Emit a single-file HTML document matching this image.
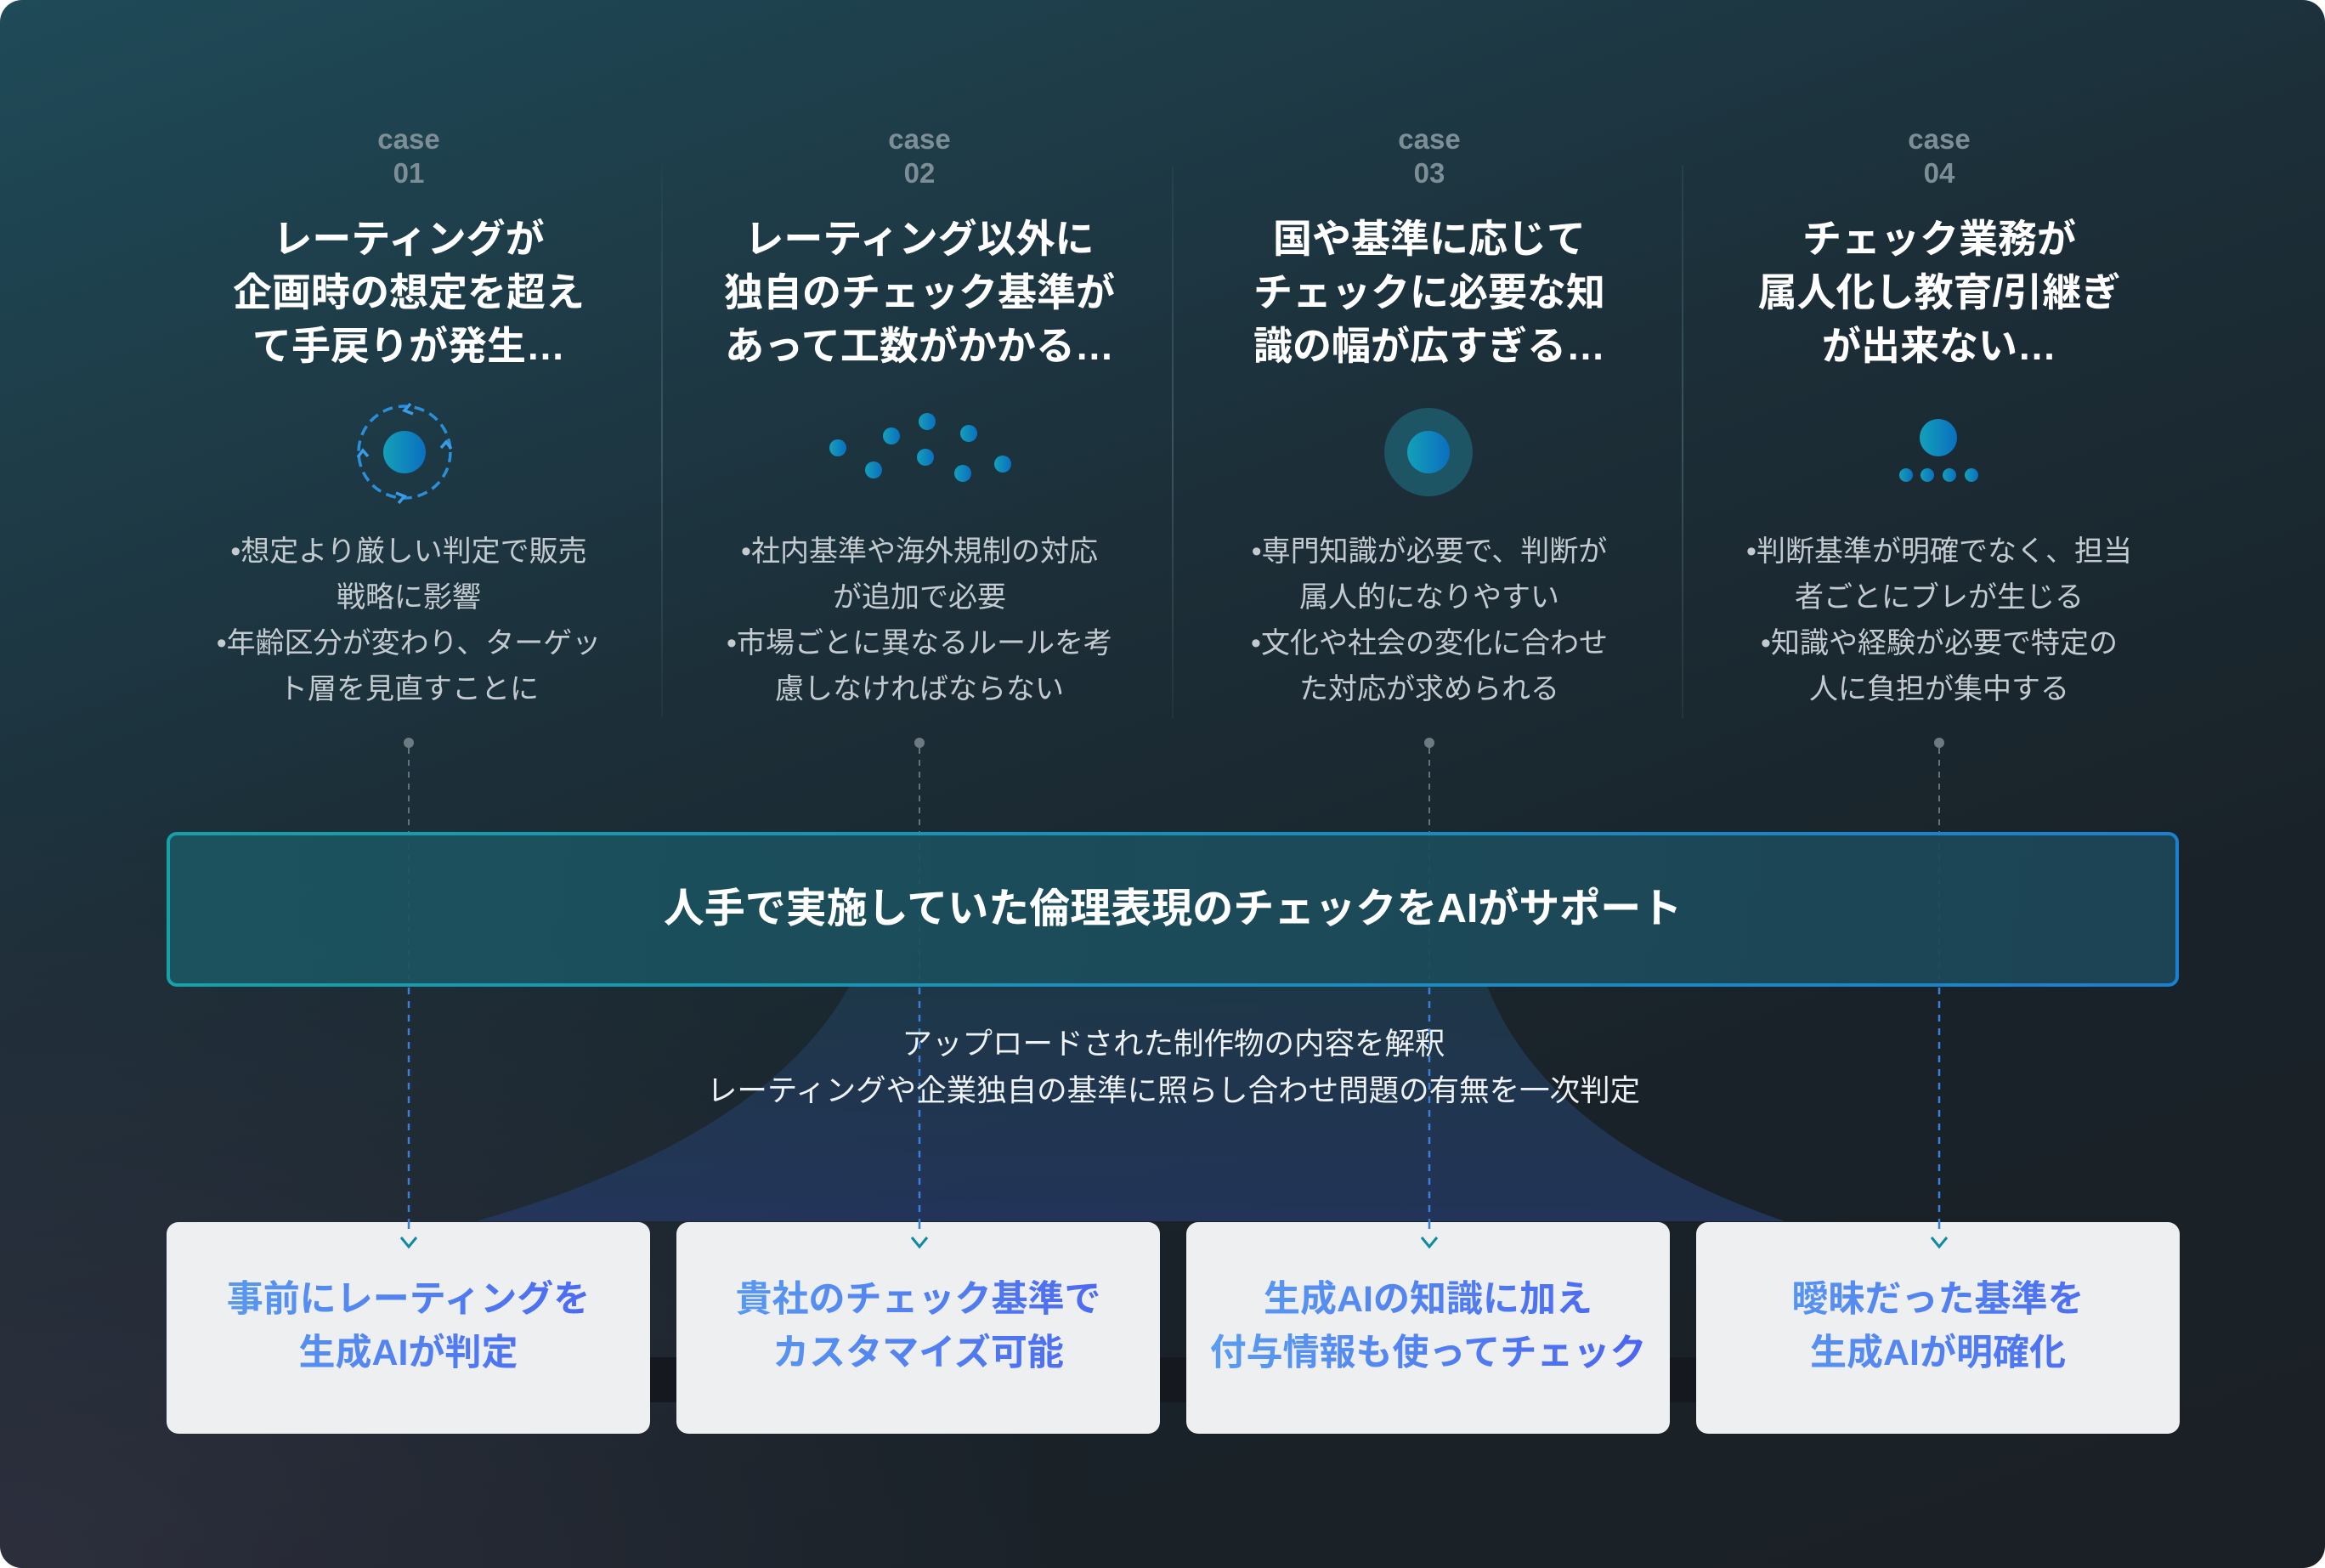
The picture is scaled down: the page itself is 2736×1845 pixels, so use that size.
<!DOCTYPE html>
<html><head><meta charset="utf-8">
<style>
html,body{margin:0;padding:0;}
body{width:2736px;height:1845px;overflow:hidden;background:#fff;font-family:"Liberation Sans","Noto Sans CJK JP",sans-serif;}
#bg{position:absolute;left:0;top:0;width:2736px;height:1845px;border-radius:26px;overflow:hidden;
background:linear-gradient(160deg,#1f4a58 0%,#1c2e38 40%,#192228 70%,#1a2026 100%);}
#bg2{position:absolute;inset:0;background:radial-gradient(ellipse 1300px 900px at 0% 100%,rgba(60,55,75,0.55),rgba(0,0,0,0));}
.t{position:absolute;text-align:center;white-space:nowrap;}
.case{color:#7d8e96;font-weight:bold;font-size:33px;line-height:40px;width:400px;}
.title{color:#fff;font-weight:bold;font-size:46px;line-height:63px;width:600px;}
.body{color:#c3cbd0;font-size:34px;line-height:54px;width:600px;}
.div{position:absolute;top:195px;width:2px;height:650px;background:linear-gradient(#24404b,#3a5560 50%,#26333a);}
.card{position:absolute;top:1438px;width:569px;height:249px;background:#eeeff1;border-radius:14px;}
.card div{position:absolute;left:0;right:0;top:60px;text-align:center;font-weight:bold;font-size:43px;line-height:63px;
background:linear-gradient(90deg,#5aa0f0,#4a62f2);-webkit-background-clip:text;background-clip:text;color:transparent;}
</style></head><body>
<div id="bg"><div id="bg2"></div>
<svg width="2736" height="1845" style="position:absolute;left:0;top:0">
<defs>
<linearGradient id="dg" x1="0" x2="1"><stop offset="0" stop-color="#14a0b8"/><stop offset="1" stop-color="#0a6fc0"/></linearGradient>
<linearGradient id="tz" x1="0" y1="0" x2="0" y2="1"><stop offset="0" stop-color="#1f3a4c"/><stop offset="1" stop-color="#243760"/></linearGradient>
<linearGradient id="bar" x1="0" x2="1"><stop offset="0" stop-color="#1b5560"/><stop offset="1" stop-color="#1c4658"/></linearGradient>
<linearGradient id="bd" x1="0" x2="1"><stop offset="0" stop-color="#16a0a8"/><stop offset="1" stop-color="#1a80d0"/></linearGradient>
</defs>
<rect x="560" y="1597" width="1700" height="53" fill="#15181f"/>
<path d="M1000 1160 L1750 1160 Q1820 1340 2100 1437 L560 1437 Q900 1340 1000 1160Z" fill="url(#tz)" opacity="0.85"/>
<g stroke="#5f7480" stroke-width="2" stroke-dasharray="7 7">
<line x1="481" y1="880" x2="481" y2="1160"/><line x1="1082" y1="880" x2="1082" y2="1160"/>
<line x1="1682" y1="880" x2="1682" y2="1160"/><line x1="2282" y1="880" x2="2282" y2="1160"/>
</g>
<g stroke="#3a7fd8" stroke-width="2.5" stroke-dasharray="8 8">
<line x1="481" y1="1162" x2="481" y2="1448"/><line x1="1082" y1="1162" x2="1082" y2="1448"/>
<line x1="1682" y1="1162" x2="1682" y2="1448"/><line x1="2282" y1="1162" x2="2282" y2="1448"/>
</g>
<g fill="#6d7a82"><circle cx="481" cy="874" r="6"/><circle cx="1082" cy="874" r="6"/><circle cx="1682" cy="874" r="6"/><circle cx="2282" cy="874" r="6"/></g>
<rect x="198" y="981" width="2364" height="178" rx="10" fill="url(#bar)" fill-opacity="0.93" stroke="url(#bd)" stroke-width="4"/>
<circle cx="476" cy="532" r="25" fill="url(#dg)"/>
<circle cx="476" cy="532" r="54" fill="none" stroke="#2a8fd8" stroke-width="3.5" stroke-dasharray="12 7"/>
<g fill="none" stroke="#3a9be8" stroke-width="3.5">
<polyline points="486,487 476,483 483,475"/><polyline points="433,537 427,530 421,538"/>
<polyline points="466,580 476,584 469,592"/><polyline points="519,527 525,520 531,528"/>
</g>
<g fill="url(#dg)">
<circle cx="986" cy="527" r="10"/><circle cx="1028" cy="553" r="10"/><circle cx="1049" cy="513" r="10"/>
<circle cx="1091" cy="496" r="10"/><circle cx="1089" cy="538" r="10"/><circle cx="1133" cy="557" r="10"/>
<circle cx="1140" cy="510" r="10"/><circle cx="1180" cy="546" r="10"/>
</g>
<circle cx="1681" cy="532" r="52" fill="#1d5565"/>
<circle cx="1681" cy="532" r="25" fill="url(#dg)"/>
<circle cx="2281" cy="515" r="22" fill="url(#dg)"/>
<g fill="url(#dg)"><circle cx="2243" cy="559" r="8"/><circle cx="2268" cy="559" r="8"/><circle cx="2294" cy="559" r="8"/><circle cx="2320" cy="559" r="8"/></g>
</svg>
<div class="div" style="left:778px"></div><div class="div" style="left:1379px"></div><div class="div" style="left:1979px"></div>

<div class="t case" style="left:281px;top:144px">case<br>01</div>
<div class="t case" style="left:882px;top:144px">case<br>02</div>
<div class="t case" style="left:1482px;top:144px">case<br>03</div>
<div class="t case" style="left:2082px;top:144px">case<br>04</div>

<div class="t title" style="left:181px;top:250px">レーティングが<br>企画時の想定を超え<br>て手戻りが発生…</div>
<div class="t title" style="left:782px;top:250px">レーティング以外に<br>独自のチェック基準が<br>あって工数がかかる…</div>
<div class="t title" style="left:1382px;top:250px">国や基準に応じて<br>チェックに必要な知<br>識の幅が広すぎる…</div>
<div class="t title" style="left:1982px;top:250px">チェック業務が<br>属人化し教育/引継ぎ<br>が出来ない…</div>

<div class="t body" style="left:181px;top:622px">•想定より厳しい判定で販売<br>戦略に影響<br>•年齢区分が変わり、ターゲッ<br>ト層を見直すことに</div>
<div class="t body" style="left:782px;top:622px">•社内基準や海外規制の対応<br>が追加で必要<br>•市場ごとに異なるルールを考<br>慮しなければならない</div>
<div class="t body" style="left:1382px;top:622px">•専門知識が必要で、判断が<br>属人的になりやすい<br>•文化や社会の変化に合わせ<br>た対応が求められる</div>
<div class="t body" style="left:1982px;top:622px">•判断基準が明確でなく、担当<br>者ごとにブレが生じる<br>•知識や経験が必要で特定の<br>人に負担が集中する</div>

<div class="t" style="left:0;width:2760px;top:1038px;color:#fff;font-weight:bold;font-size:48px;line-height:64px">人手で実施していた倫理表現のチェックをAIがサポート</div>
<div class="t" style="left:0;width:2762px;top:1201px;color:#eef2f5;font-size:35.5px;line-height:55px">アップロードされた制作物の内容を解釈<br>レーティングや企業独自の基準に照らし合わせ問題の有無を一次判定</div>

<div class="card" style="left:196px"><div>事前にレーティングを<br>生成AIが判定</div></div>
<div class="card" style="left:796px"><div>貴社のチェック基準で<br>カスタマイズ可能</div></div>
<div class="card" style="left:1396px"><div>生成AIの知識に加え<br>付与情報も使ってチェック</div></div>
<div class="card" style="left:1996px"><div>曖昧だった基準を<br>生成AIが明確化</div></div>
<svg width="2736" height="1845" style="position:absolute;left:0;top:0;pointer-events:none">
<g fill="none" stroke="#0f8aa0" stroke-width="3">
<polyline points="472,1456 481,1467 490,1456"/><polyline points="1073,1456 1082,1467 1091,1456"/>
<polyline points="1673,1456 1682,1467 1691,1456"/><polyline points="2273,1456 2282,1467 2291,1456"/>
</g>
<g stroke="#3a7fd8" stroke-width="2.5" stroke-dasharray="8 8">
<line x1="481" y1="1438" x2="481" y2="1452"/><line x1="1082" y1="1438" x2="1082" y2="1452"/>
<line x1="1682" y1="1438" x2="1682" y2="1452"/><line x1="2282" y1="1438" x2="2282" y2="1452"/>
</g>
</svg>
</div>
</body></html>
